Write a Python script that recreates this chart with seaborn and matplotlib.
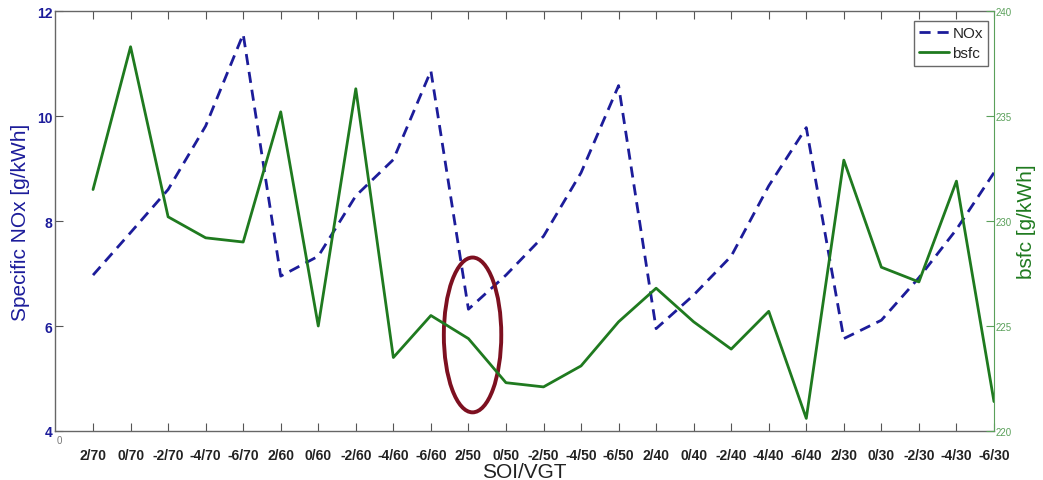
import numpy as np
import pandas
import seaborn
import matplotlib
matplotlib.use("Agg")
import matplotlib.pyplot as plt
from matplotlib.patches import Ellipse

CATEGORIES = [
    "2/70", "0/70", "-2/70", "-4/70", "-6/70",
    "2/60", "0/60", "-2/60", "-4/60", "-6/60",
    "2/50", "0/50", "-2/50", "-4/50", "-6/50",
    "2/40", "0/40", "-2/40", "-4/40", "-6/40",
    "2/30", "0/30", "-2/30", "-4/30", "-6/30",
]
NOX = [
    6.97, 7.78, 8.60, 9.81, 11.56,
    6.95, 7.33, 8.48, 9.17, 10.86,
    6.32, 6.97, 7.71, 8.92, 10.58,
    5.95, 6.59, 7.33, 8.67, 9.78,
    5.76, 6.11, 6.92, 7.84, 8.92,
]
BSFC = [
    231.5, 238.3, 230.2, 229.2, 229.0,
    235.2, 225.0, 236.3, 223.5, 225.5,
    224.4, 222.3, 222.1, 223.1, 225.2,
    226.8, 225.2, 223.9, 225.7, 220.6,
    232.9, 227.8, 227.1, 231.9, 221.4,
]
NOX_TICKS = [4, 6, 8, 10, 12]
BSFC_TICKS = [220, 225, 230, 235, 240]

BLUE = "#1c1c9a"
GREEN = "#1f7a1f"
AXIS_GREEN = "#5aa05a"
RED = "#7d1020"

df = pandas.DataFrame({"pos": np.arange(1, len(CATEGORIES) + 1), "NOx": NOX, "bsfc": BSFC})

seaborn.set_style("white")
plt.rcParams["font.family"] = ["Liberation Sans", "DejaVu Sans"]

fig = plt.figure(figsize=(10.43, 4.81), dpi=100)
ax = fig.add_axes([0.0532, 0.1019, 0.8998, 0.873])
ax2 = ax.twinx()

seaborn.lineplot(data=df, x="pos", y="NOx", ax=ax, color=BLUE, linewidth=2,
                 linestyle=(0, (4, 2.5)), label="NOx", legend=False)
seaborn.lineplot(data=df, x="pos", y="bsfc", ax=ax2, color=GREEN, linewidth=2,
                 label="bsfc", legend=False)

# highlight around 2/50
ax.add_patch(Ellipse((11.11, 5.83), 1.53, 2.95, fill=False, edgecolor=RED, linewidth=2.8, zorder=5))

ax.set_xlim(0, len(CATEGORIES))
ax.set_ylim(NOX_TICKS[0], NOX_TICKS[-1])
ax2.set_ylim(BSFC_TICKS[0], BSFC_TICKS[-1])

ax.set_xticks(range(1, len(CATEGORIES) + 1))
ax.set_xticklabels(CATEGORIES, fontsize=10, fontweight="bold", color="#222222")
# the stray "0" at the x origin
ax.annotate("0", xy=(0, 0), xycoords="axes fraction", xytext=(1, -3),
            textcoords="offset points", ha="left", va="top", fontsize=7, color="#777777")

ax.set_yticks(NOX_TICKS)
ax.set_yticklabels([str(t) for t in NOX_TICKS], fontsize=10, fontweight="bold", color=BLUE)
ax2.set_yticks(BSFC_TICKS)
ax2.set_yticklabels([str(t) for t in BSFC_TICKS], fontsize=7, color=AXIS_GREEN)

ax.tick_params(axis="both", direction="in", length=6, width=0.8, colors="#555555",
               top=True, bottom=True, left=True, right=False)
for lab in ax.get_yticklabels():
    lab.set_color(BLUE)
for lab in ax.get_xticklabels():
    lab.set_color("#222222")
ax.tick_params(axis="x", pad=12.5)
ax.tick_params(axis="y", pad=2)
ax2.tick_params(axis="y", direction="in", length=6, width=0.8, colors=AXIS_GREEN, pad=1)

ax.set_xlabel("SOI/VGT", fontsize=15, color="#222222", labelpad=0)
ax.set_ylabel("Specific NOx [g/kWh]", fontsize=15, color=BLUE, labelpad=5)
ax2.set_ylabel("bsfc [g/kWh]", fontsize=15, color=GREEN, labelpad=4)

for side in ["left", "bottom", "top"]:
    ax.spines[side].set_color("#666666")
    ax.spines[side].set_linewidth(1)
ax.spines["right"].set_visible(False)
ax2.spines["right"].set_color(AXIS_GREEN)
for side in ["left", "bottom", "top"]:
    ax2.spines[side].set_visible(False)

handles = ax.get_lines()[:1] + ax2.get_lines()[:1]
leg = ax.legend(handles, ["NOx", "bsfc"], loc="upper right", bbox_to_anchor=(0.994, 0.977),
                fontsize=11, frameon=True, fancybox=False, edgecolor="#444444",
                handlelength=2.0, handletextpad=0.2, borderpad=0.35, labelspacing=0.4,
                borderaxespad=0)
leg.get_frame().set_linewidth(1)

fig.savefig("out.png", dpi=100)
